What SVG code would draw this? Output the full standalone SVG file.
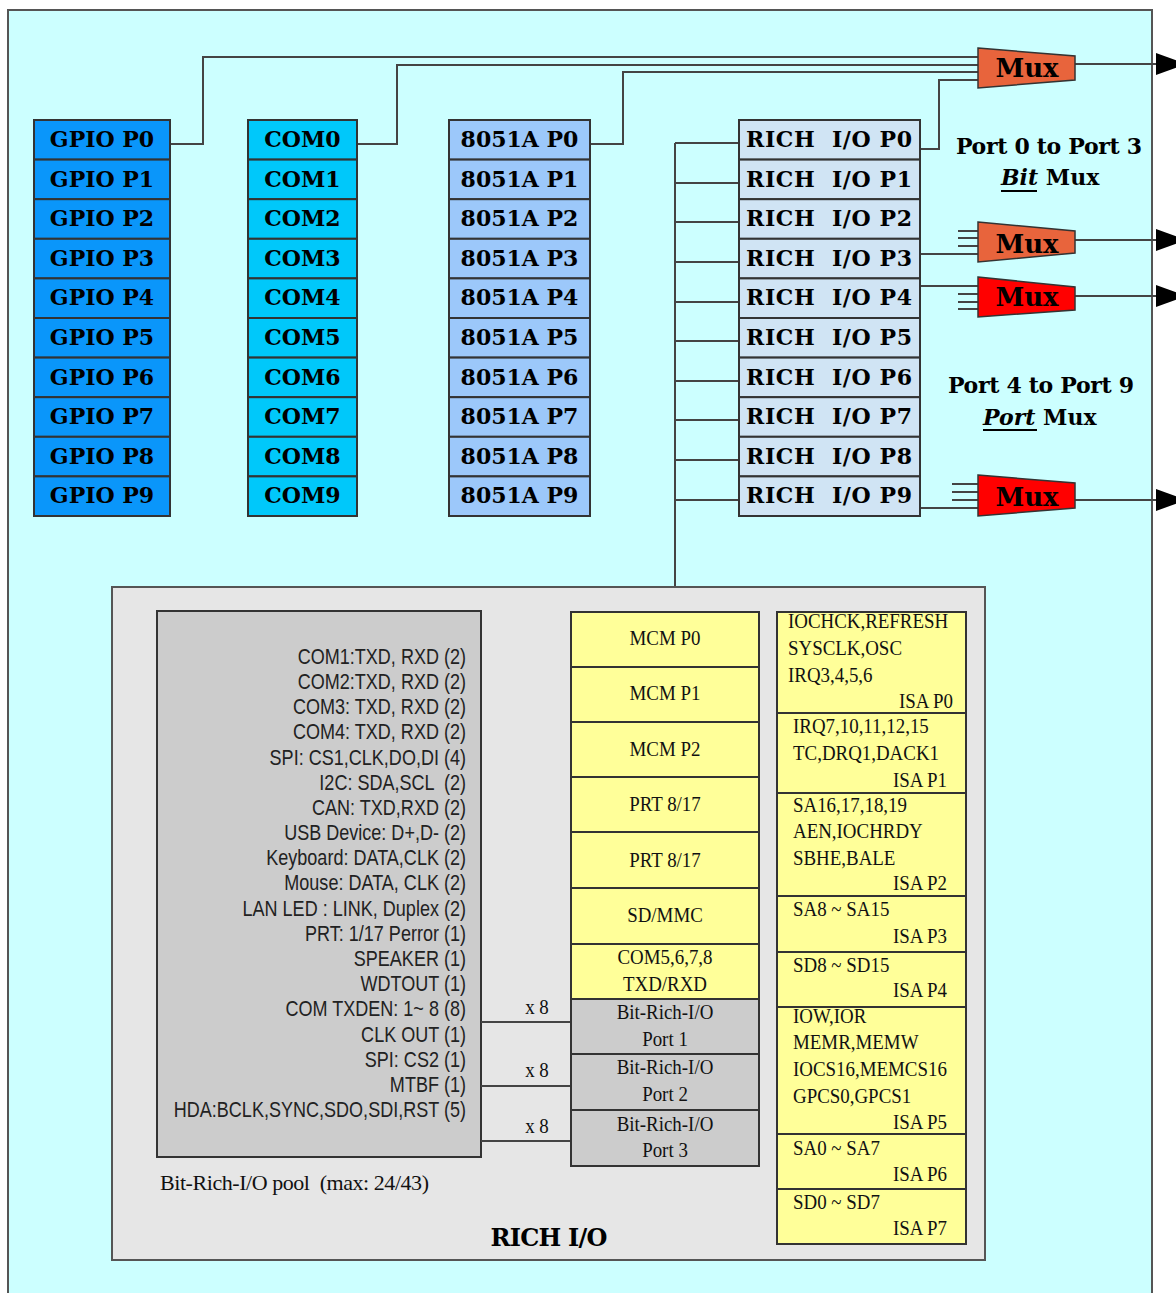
<svg xmlns="http://www.w3.org/2000/svg" width="1176" height="1293" viewBox="0 0 1176 1293">
<style>
.cell{stroke:#333;stroke-width:2}
.gp{fill:#0a96fa}
.cm{fill:#00c8fa}
.a51{fill:#9cc8fa}
.ri{fill:#d0e4f4}
.yl{fill:#ffff99;stroke:#333;stroke-width:2}
.gy{fill:#cccccc;stroke:#333;stroke-width:2}
.lb{font-family:"DejaVu Serif","Liberation Serif",serif;font-weight:bold;font-size:22px;fill:#000;text-anchor:middle}
.mx{font-family:"DejaVu Serif","Liberation Serif",serif;font-weight:bold;font-size:26px;fill:#000;text-anchor:middle}
.pt{font-family:"DejaVu Serif","Liberation Serif",serif;font-weight:bold;font-size:22px;fill:#000}
.ns{font-family:"Liberation Sans",Arial,sans-serif;font-size:22px;fill:#222;text-anchor:end}
.sm{font-family:"Liberation Serif","Times New Roman",serif;font-size:22px;fill:#111;text-anchor:middle}
.sl{font-family:"Liberation Serif","Times New Roman",serif;font-size:22px;fill:#111}
.sr{font-family:"Liberation Serif","Times New Roman",serif;font-size:22px;fill:#111;text-anchor:end}
.ln{fill:none;stroke:#444;stroke-width:2}
.mo{fill:#e8643c;stroke:#333;stroke-width:1.5}
.mr{fill:#ff0000;stroke:#333;stroke-width:1.5}
</style>
<defs>
<marker id="ah" markerWidth="10" markerHeight="10" refX="0" refY="5" orient="auto" markerUnits="userSpaceOnUse">
<path d="M0,0 L10,5 L0,10 Z" fill="#000"/>
</marker>
</defs>

<rect id="panel" x="8" y="10" width="1144" height="1300" fill="#ccffff" stroke="#555" stroke-width="2"/>

<g id="connectors">
<polyline class="ln" points="170,144 203,144 203,57 978,57"/>
<polyline class="ln" points="357,144 397,144 397,65 978,65"/>
<polyline class="ln" points="590,144 623,144 623,72 978,72"/>
<polyline class="ln" points="920,149 939,149 939,80 978,80"/>
<line class="ln" x1="920" y1="254" x2="978" y2="254"/>
<line class="ln" x1="920" y1="286" x2="978" y2="286"/>
<line class="ln" x1="920" y1="508" x2="978" y2="508"/>
<path class="ln" d="M958,231H978M958,238H978M958,246H978M958,294H978M958,302H978M958,309H978M952,484H978M952,492H978M952,500H978"/>
<line class="ln" x1="675" y1="143" x2="675" y2="587"/>
<path class="ln" d="M675,143H739M675,183H739M675,222H739M675,262H739M675,302H739M675,341H739M675,381H739M675,420H739M675,460H739M675,500H739"/>
<path class="ln" d="M1075,64H1156M1075,240H1156M1075,296H1156M1075,500H1156"/>
<polygon points="1156,53 1186,64 1156,75" fill="#000"/>
<polygon points="1156,229 1186,240 1156,251" fill="#000"/>
<polygon points="1156,285 1186,296 1156,307" fill="#000"/>
<polygon points="1156,489 1186,500 1156,511" fill="#000"/>
</g>

<g id="gpio">
<rect class="cell gp" x="34" y="120" width="136" height="39.6"/>
<rect class="cell gp" x="34" y="159.6" width="136" height="39.6"/>
<rect class="cell gp" x="34" y="199.2" width="136" height="39.6"/>
<rect class="cell gp" x="34" y="238.8" width="136" height="39.6"/>
<rect class="cell gp" x="34" y="278.4" width="136" height="39.6"/>
<rect class="cell gp" x="34" y="318" width="136" height="39.6"/>
<rect class="cell gp" x="34" y="357.6" width="136" height="39.6"/>
<rect class="cell gp" x="34" y="397.2" width="136" height="39.6"/>
<rect class="cell gp" x="34" y="436.8" width="136" height="39.6"/>
<rect class="cell gp" x="34" y="476.4" width="136" height="39.6"/>
<text class="lb" x="102" y="147">GPIO P0</text>
<text class="lb" x="102" y="186.6">GPIO P1</text>
<text class="lb" x="102" y="226.2">GPIO P2</text>
<text class="lb" x="102" y="265.8">GPIO P3</text>
<text class="lb" x="102" y="305.4">GPIO P4</text>
<text class="lb" x="102" y="345">GPIO P5</text>
<text class="lb" x="102" y="384.6">GPIO P6</text>
<text class="lb" x="102" y="424.2">GPIO P7</text>
<text class="lb" x="102" y="463.8">GPIO P8</text>
<text class="lb" x="102" y="503.4">GPIO P9</text>
</g>

<g id="com">
<rect class="cell cm" x="248" y="120" width="109" height="39.6"/>
<rect class="cell cm" x="248" y="159.6" width="109" height="39.6"/>
<rect class="cell cm" x="248" y="199.2" width="109" height="39.6"/>
<rect class="cell cm" x="248" y="238.8" width="109" height="39.6"/>
<rect class="cell cm" x="248" y="278.4" width="109" height="39.6"/>
<rect class="cell cm" x="248" y="318" width="109" height="39.6"/>
<rect class="cell cm" x="248" y="357.6" width="109" height="39.6"/>
<rect class="cell cm" x="248" y="397.2" width="109" height="39.6"/>
<rect class="cell cm" x="248" y="436.8" width="109" height="39.6"/>
<rect class="cell cm" x="248" y="476.4" width="109" height="39.6"/>
<text class="lb" x="302.5" y="147">COM0</text>
<text class="lb" x="302.5" y="186.6">COM1</text>
<text class="lb" x="302.5" y="226.2">COM2</text>
<text class="lb" x="302.5" y="265.8">COM3</text>
<text class="lb" x="302.5" y="305.4">COM4</text>
<text class="lb" x="302.5" y="345">COM5</text>
<text class="lb" x="302.5" y="384.6">COM6</text>
<text class="lb" x="302.5" y="424.2">COM7</text>
<text class="lb" x="302.5" y="463.8">COM8</text>
<text class="lb" x="302.5" y="503.4">COM9</text>
</g>

<g id="a8051">
<rect class="cell a51" x="449" y="120" width="141" height="39.6"/>
<rect class="cell a51" x="449" y="159.6" width="141" height="39.6"/>
<rect class="cell a51" x="449" y="199.2" width="141" height="39.6"/>
<rect class="cell a51" x="449" y="238.8" width="141" height="39.6"/>
<rect class="cell a51" x="449" y="278.4" width="141" height="39.6"/>
<rect class="cell a51" x="449" y="318" width="141" height="39.6"/>
<rect class="cell a51" x="449" y="357.6" width="141" height="39.6"/>
<rect class="cell a51" x="449" y="397.2" width="141" height="39.6"/>
<rect class="cell a51" x="449" y="436.8" width="141" height="39.6"/>
<rect class="cell a51" x="449" y="476.4" width="141" height="39.6"/>
<text class="lb" x="519.5" y="147">8051A P0</text>
<text class="lb" x="519.5" y="186.6">8051A P1</text>
<text class="lb" x="519.5" y="226.2">8051A P2</text>
<text class="lb" x="519.5" y="265.8">8051A P3</text>
<text class="lb" x="519.5" y="305.4">8051A P4</text>
<text class="lb" x="519.5" y="345">8051A P5</text>
<text class="lb" x="519.5" y="384.6">8051A P6</text>
<text class="lb" x="519.5" y="424.2">8051A P7</text>
<text class="lb" x="519.5" y="463.8">8051A P8</text>
<text class="lb" x="519.5" y="503.4">8051A P9</text>
</g>

<g id="rich">
<rect class="cell ri" x="739" y="120" width="181" height="39.6"/>
<rect class="cell ri" x="739" y="159.6" width="181" height="39.6"/>
<rect class="cell ri" x="739" y="199.2" width="181" height="39.6"/>
<rect class="cell ri" x="739" y="238.8" width="181" height="39.6"/>
<rect class="cell ri" x="739" y="278.4" width="181" height="39.6"/>
<rect class="cell ri" x="739" y="318" width="181" height="39.6"/>
<rect class="cell ri" x="739" y="357.6" width="181" height="39.6"/>
<rect class="cell ri" x="739" y="397.2" width="181" height="39.6"/>
<rect class="cell ri" x="739" y="436.8" width="181" height="39.6"/>
<rect class="cell ri" x="739" y="476.4" width="181" height="39.6"/>
<text class="lb" x="829" y="147" textLength="166" xml:space="preserve">RICH  I/O P0</text>
<text class="lb" x="829" y="186.6" textLength="166" xml:space="preserve">RICH  I/O P1</text>
<text class="lb" x="829" y="226.2" textLength="166" xml:space="preserve">RICH  I/O P2</text>
<text class="lb" x="829" y="265.8" textLength="166" xml:space="preserve">RICH  I/O P3</text>
<text class="lb" x="829" y="305.4" textLength="166" xml:space="preserve">RICH  I/O P4</text>
<text class="lb" x="829" y="345" textLength="166" xml:space="preserve">RICH  I/O P5</text>
<text class="lb" x="829" y="384.6" textLength="166" xml:space="preserve">RICH  I/O P6</text>
<text class="lb" x="829" y="424.2" textLength="166" xml:space="preserve">RICH  I/O P7</text>
<text class="lb" x="829" y="463.8" textLength="166" xml:space="preserve">RICH  I/O P8</text>
<text class="lb" x="829" y="503.4" textLength="166" xml:space="preserve">RICH  I/O P9</text>
</g>

<g id="mux1">
<polygon class="mo" points="978,48 1075,56 1075,80 978,88"/>
<text class="mx" x="1027" y="77">Mux</text>
</g>
<g id="mux2">
<polygon class="mo" points="978,222 1075,231 1075,253 978,262"/>
<text class="mx" x="1027" y="253">Mux</text>
</g>
<g id="mux3">
<polygon class="mr" points="978,277 1075,287 1075,310 978,317"/>
<text class="mx" x="1027" y="306">Mux</text>
</g>
<g id="mux4">
<polygon class="mr" points="978,475 1075,483 1075,508 978,516"/>
<text class="mx" x="1027" y="506">Mux</text>
</g>

<g id="label-bit">
<text class="pt" x="956" y="154" textLength="186">Port 0 to Port 3</text>
<text class="pt" x="1001" y="185"><tspan font-style="italic">Bit</tspan> Mux</text>
<line x1="1001" y1="191" x2="1037" y2="191" stroke="#000" stroke-width="2"/>
</g>
<g id="label-port">
<text class="pt" x="948" y="393" textLength="186">Port 4 to Port 9</text>
<text class="pt" x="983" y="425"><tspan font-style="italic">Port</tspan> Mux</text>
<line x1="983" y1="430" x2="1037" y2="430" stroke="#000" stroke-width="2"/>
</g>

<g id="richio">
<rect x="112" y="587" width="873" height="673" fill="#e6e6e6" stroke="#555" stroke-width="2"/>
<text x="549" y="1246" font-family="DejaVu Serif,'Liberation Serif',serif" font-weight="bold" font-size="24" text-anchor="middle" textLength="117">RICH I/O</text>
</g>

<g id="pool">
<rect x="157" y="611" width="324" height="546" fill="#cccccc" stroke="#333" stroke-width="2"/>
<g transform="translate(466 0) scale(0.82 1)">
<text class="ns" x="0" y="664">COM1:TXD, RXD (2)</text>
<text class="ns" x="0" y="689.2">COM2:TXD, RXD (2)</text>
<text class="ns" x="0" y="714.3">COM3: TXD, RXD (2)</text>
<text class="ns" x="0" y="739.5">COM4: TXD, RXD (2)</text>
<text class="ns" x="0" y="764.7">SPI: CS1,CLK,DO,DI (4)</text>
<text class="ns" x="0" y="789.9" xml:space="preserve">I2C: SDA,SCL  (2)</text>
<text class="ns" x="0" y="815">CAN: TXD,RXD (2)</text>
<text class="ns" x="0" y="840.2">USB Device: D+,D- (2)</text>
<text class="ns" x="0" y="865.4">Keyboard: DATA,CLK (2)</text>
<text class="ns" x="0" y="890.5">Mouse: DATA, CLK (2)</text>
<text class="ns" x="0" y="915.7">LAN LED : LINK, Duplex (2)</text>
<text class="ns" x="0" y="940.9">PRT: 1/17 Perror (1)</text>
<text class="ns" x="0" y="966">SPEAKER (1)</text>
<text class="ns" x="0" y="991.2">WDTOUT (1)</text>
<text class="ns" x="0" y="1016.4">COM TXDEN: 1~ 8 (8)</text>
<text class="ns" x="0" y="1041.6">CLK OUT (1)</text>
<text class="ns" x="0" y="1066.7">SPI: CS2 (1)</text>
<text class="ns" x="0" y="1091.9">MTBF (1)</text>
<text class="ns" x="0" y="1117">HDA:BCLK,SYNC,SDO,SDI,RST (5)</text>
</g>
<text class="sl" x="160" y="1190" textLength="269" xml:space="preserve">Bit-Rich-I/O pool  (max: 24/43)</text>
</g>

<g id="pool-links">
<path class="ln" d="M481,1022H571M481,1086H571M481,1141H571"/>
<text class="sm" transform="translate(537 1014) scale(.86 1)">x 8</text>
<text class="sm" transform="translate(537 1077) scale(.86 1)">x 8</text>
<text class="sm" transform="translate(537 1133) scale(.86 1)">x 8</text>
</g>

<g id="ports">
<rect class="yl" x="571" y="612" width="188" height="55"/>
<rect class="yl" x="571" y="667" width="188" height="55"/>
<rect class="yl" x="571" y="722" width="188" height="55"/>
<rect class="yl" x="571" y="777" width="188" height="55"/>
<rect class="yl" x="571" y="832" width="188" height="56"/>
<rect class="yl" x="571" y="888" width="188" height="56"/>
<rect class="yl" x="571" y="944" width="188" height="55"/>
<rect class="gy" x="571" y="999" width="188" height="55"/>
<rect class="gy" x="571" y="1054" width="188" height="56"/>
<rect class="gy" x="571" y="1110" width="188" height="56"/>
<text class="sm" transform="translate(665 645) scale(.86 1)">MCM P0</text>
<text class="sm" transform="translate(665 700) scale(.86 1)">MCM P1</text>
<text class="sm" transform="translate(665 756) scale(.86 1)">MCM P2</text>
<text class="sm" transform="translate(665 811) scale(.86 1)">PRT 8/17</text>
<text class="sm" transform="translate(665 867) scale(.86 1)">PRT 8/17</text>
<text class="sm" transform="translate(665 922) scale(.86 1)">SD/MMC</text>
<text class="sm" transform="translate(665 964) scale(.86 1)">COM5,6,7,8</text>
<text class="sm" transform="translate(665 991) scale(.86 1)">TXD/RXD</text>
<text class="sm" transform="translate(665 1019) scale(.86 1)">Bit-Rich-I/O</text>
<text class="sm" transform="translate(665 1046) scale(.86 1)">Port 1</text>
<text class="sm" transform="translate(665 1074) scale(.86 1)">Bit-Rich-I/O</text>
<text class="sm" transform="translate(665 1101) scale(.86 1)">Port 2</text>
<text class="sm" transform="translate(665 1131) scale(.86 1)">Bit-Rich-I/O</text>
<text class="sm" transform="translate(665 1157) scale(.86 1)">Port 3</text>
</g>

<g id="isa">
<rect class="yl" x="777" y="612" width="189" height="101"/>
<rect class="yl" x="777" y="713" width="189" height="80"/>
<rect class="yl" x="777" y="793" width="189" height="103"/>
<rect class="yl" x="777" y="896" width="189" height="56"/>
<rect class="yl" x="777" y="952" width="189" height="55"/>
<rect class="yl" x="777" y="1007" width="189" height="127"/>
<rect class="yl" x="777" y="1134" width="189" height="55"/>
<rect class="yl" x="777" y="1189" width="189" height="55"/>
<text class="sl" transform="translate(788 628) scale(.86 1)">IOCHCK,REFRESH</text>
<text class="sl" transform="translate(788 655) scale(.86 1)">SYSCLK,OSC</text>
<text class="sl" transform="translate(788 682) scale(.86 1)">IRQ3,4,5,6</text>
<text class="sr" transform="translate(953 708) scale(.86 1)">ISA P0</text>
<text class="sl" transform="translate(793 733) scale(.86 1)">IRQ7,10,11,12,15</text>
<text class="sl" transform="translate(793 760) scale(.86 1)">TC,DRQ1,DACK1</text>
<text class="sr" transform="translate(947 787) scale(.86 1)">ISA P1</text>
<text class="sl" transform="translate(793 812) scale(.86 1)">SA16,17,18,19</text>
<text class="sl" transform="translate(793 838) scale(.86 1)">AEN,IOCHRDY</text>
<text class="sl" transform="translate(793 865) scale(.86 1)">SBHE,BALE</text>
<text class="sr" transform="translate(947 890) scale(.86 1)">ISA P2</text>
<text class="sl" transform="translate(793 916) scale(.86 1)">SA8 ~ SA15</text>
<text class="sr" transform="translate(947 943) scale(.86 1)">ISA P3</text>
<text class="sl" transform="translate(793 972) scale(.86 1)">SD8 ~ SD15</text>
<text class="sr" transform="translate(947 997) scale(.86 1)">ISA P4</text>
<text class="sl" transform="translate(793 1023) scale(.86 1)">IOW,IOR</text>
<text class="sl" transform="translate(793 1049) scale(.86 1)">MEMR,MEMW</text>
<text class="sl" transform="translate(793 1076) scale(.86 1)">IOCS16,MEMCS16</text>
<text class="sl" transform="translate(793 1103) scale(.86 1)">GPCS0,GPCS1</text>
<text class="sr" transform="translate(947 1129) scale(.86 1)">ISA P5</text>
<text class="sl" transform="translate(793 1155) scale(.86 1)">SA0 ~ SA7</text>
<text class="sr" transform="translate(947 1181) scale(.86 1)">ISA P6</text>
<text class="sl" transform="translate(793 1209) scale(.86 1)">SD0 ~ SD7</text>
<text class="sr" transform="translate(947 1235) scale(.86 1)">ISA P7</text>
</g>
</svg>
